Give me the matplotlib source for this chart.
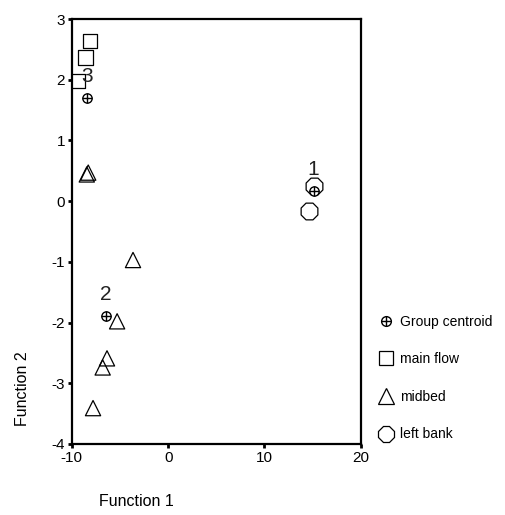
import matplotlib
matplotlib.use("Agg")
import matplotlib.pyplot as plt
from matplotlib.lines import Line2D
from matplotlib.legend_handler import HandlerTuple

plt.rcParams['font.family'] = ['Liberation Sans', 'DejaVu Sans']
plt.rcParams['axes.unicode_minus'] = False

# Data
centroid_x = [15.1, -6.45, -8.4]
centroid_y = [0.16, -1.89, 1.70]
centroid_labels = ["1", "2", "3"]

main_x = [-8.1, -8.6, -9.4]
main_y = [2.64, 2.37, 1.98]

mid_x = [-8.45, -8.3, -3.65, -5.3, -6.35, -6.8, -7.8]
mid_y = [0.44, 0.47, -0.97, -1.98, -2.59, -2.74, -3.41]

left_x = [15.1, 14.6]
left_y = [0.25, -0.16]

xticks = [-10, 0, 10, 20]
yticks = [-4, -3, -2, -1, 0, 1, 2, 3]

fig = plt.figure(figsize=(5.06, 5.15), dpi=100)
ax = fig.add_axes([0.142, 0.138, 0.571, 0.825])

ax.scatter(left_x, left_y, marker='8', s=170, facecolors='white', edgecolors='black', linewidths=0.9, zorder=2)
ax.scatter(main_x, main_y, marker='s', s=110, facecolors='none', edgecolors='black', linewidths=0.9, zorder=3)
ax.scatter(mid_x, mid_y, marker='^', s=120, facecolors='none', edgecolors='black', linewidths=0.9, zorder=3)
ax.scatter(centroid_x, centroid_y, marker='o', s=45, facecolors='white', edgecolors='black', linewidths=1.0, zorder=4)
ax.scatter(centroid_x, centroid_y, marker='+', s=45, color='black', linewidths=1.0, zorder=5)

for x, y, t in zip(centroid_x, centroid_y, centroid_labels):
    ax.text(x, y + 0.2, t, ha='center', va='bottom', fontsize=15, color='#222222', zorder=6)

ax.set_xlim(-10, 20)
ax.set_ylim(-4, 3)
ax.set_xticks(xticks)
ax.set_yticks(yticks)
ax.tick_params(direction='out', length=3, width=2, labelsize=11, colors='black', pad=2)
for sp in ax.spines.values():
    sp.set_linewidth(1.6)

fig.text(0.045, 0.245, "Function 2", rotation=90, fontsize=11.5, va='center', ha='center')
fig.text(0.195, 0.027, "Function 1", fontsize=11.5, va='center', ha='left')

cent_handle = (
    Line2D([], [], linestyle='none', marker='o', markersize=7, markerfacecolor='white', markeredgecolor='black', markeredgewidth=1.0),
    Line2D([], [], linestyle='none', marker='+', markersize=7, color='black', markeredgewidth=1.0),
)
handles = [
    cent_handle,
    Line2D([], [], linestyle='none', marker='s', markersize=10, markerfacecolor='none', markeredgecolor='black', markeredgewidth=0.9),
    Line2D([], [], linestyle='none', marker='^', markersize=11, markerfacecolor='none', markeredgecolor='black', markeredgewidth=0.9),
    Line2D([], [], linestyle='none', marker='8', markersize=13, markerfacecolor='none', markeredgecolor='black', markeredgewidth=0.9),
]
labels = ["Group centroid", "main flow", "midbed", "left bank"]
fig.legend(handles, labels, loc='upper left', bbox_to_anchor=(0.735, 0.4), frameon=False,
           fontsize=10, labelspacing=1.7, handletextpad=0.4, handlelength=1.2, borderaxespad=0,
           handler_map={tuple: HandlerTuple(ndivide=1, pad=0)})

fig.savefig("out.png", dpi=100, facecolor='white')
